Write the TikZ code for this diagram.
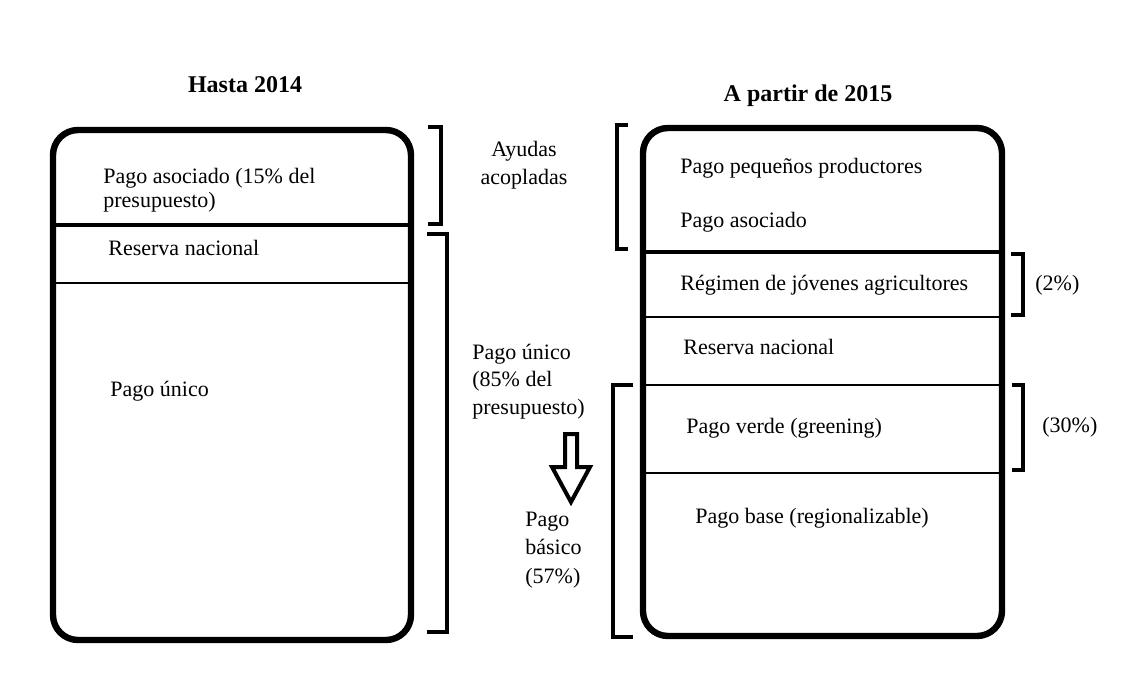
\documentclass[tikz,border=0pt]{standalone}
\usepackage{fontspec}
\setmainfont{Liberation Serif}
\begin{document}
\begin{tikzpicture}
[   x=0.5pt, y=-0.5pt,
    panel/.style={draw=black,line width=3.2pt,rounded corners=12.5pt,rectangle,inner sep=0pt},
    bigrule/.style={line width=2pt},
    thinrule/.style={line width=0.6pt},
    brk/.style={line width=2pt},
    lbl/.style={inner sep=0pt,anchor=base west,font=\fontsize{11}{13}\selectfont},
    ttl/.style={inner sep=0pt,anchor=base,font=\fontsize{12}{14}\selectfont\bfseries},
]
    \useasboundingbox (0,0) rectangle (1136,682);
    %
    % titles
    \node[ttl] (hasta-t) at (245,92) {Hasta 2014};
    \node[ttl] (partir-t) at (808,101) {A partir de 2015};

    % the two boxes
    \node[panel,minimum width=179pt,minimum height=255pt] (hasta) at (232,385) {};
    \node[panel,minimum width=179.5pt,minimum height=254pt] (partir) at (822.5,382) {};

    \draw[bigrule] (hasta.west |- 0,225) -- (hasta.east |- 0,225);
    \draw[thinrule] (hasta.west |- 0,283) -- (hasta.east |- 0,283);
    \draw[bigrule] (partir.west |- 0,252) -- (partir.east |- 0,252);
    \foreach \y in {317,385,473}
    {
        \draw[thinrule] (partir.west |- 0,\y) -- (partir.east |- 0,\y);
    }

    % left box texts
    \node[lbl] (asoc-1) at (103,183) {Pago asociado (15\% del};
    \node[lbl] (asoc-2) at (103,207) {presupuesto)};
    \node[lbl] (reserva-l) at (108,255) {Reserva nacional};
    \node[lbl] (unico-l) at (110,396) {Pago único};

    % right box texts
    \node[lbl] (peq) at (680,173) {Pago pequeños productores};
    \node[lbl] (asoc-r) at (680,227) {Pago asociado};
    \node[lbl] (jov) at (680,290) {Régimen de jóvenes agricultores};
    \node[lbl] (reserva-r) at (683,354) {Reserva nacional};
    \node[lbl] (verde) at (686,433) {Pago verde (greening)};
    \node[lbl] (base) at (695,523) {Pago base (regionalizable)};
    \node[lbl] (pct2) at (1035,290) {(2\%)};
    \node[lbl] (pct30) at (1042,432) {(30\%)};

    % middle texts
    \node[lbl,anchor=base] (ayu-1) at (524,156) {Ayudas};
    \node[lbl,anchor=base] (ayu-2) at (524,184) {acopladas};
    \foreach \t [count=\i] in {{Pago único},{(85\% del},{presupuesto)}}
    {
        \node[lbl] (unico-\i) at (472,{359+27.5*(\i-1)}) {\t};
    }
    \foreach \t [count=\i] in {{Pago},{básico},{(57\%)}}
    {
        \node[lbl] (basico-\i) at (525,{526+28.5*(\i-1)}) {\t};
    }

    % hollow arrow
    \draw[line width=2pt,line join=miter] (565,434) -- (577,434) -- (577,467) -- (590,467)
        -- (571,502) -- (552,467) -- (565,467) -- cycle;

    % brackets
    \draw[brk] (428,126.5) -- (441,126.5) -- (441,223.5) -- (428,223.5);
    \draw[brk] (427,234) -- (447,234) -- (447,632) -- (427,632);
    \draw[brk] (628,125) -- (617,125) -- (617,249) -- (628,249);
    \draw[brk] (633,385) -- (613,385) -- (613,637) -- (633,637);
    \draw[brk] (1011,254) -- (1023,254) -- (1023,315) -- (1011,315);
    \draw[brk] (1012,385) -- (1023,385) -- (1023,470) -- (1012,470);
\end{tikzpicture}
\end{document}
